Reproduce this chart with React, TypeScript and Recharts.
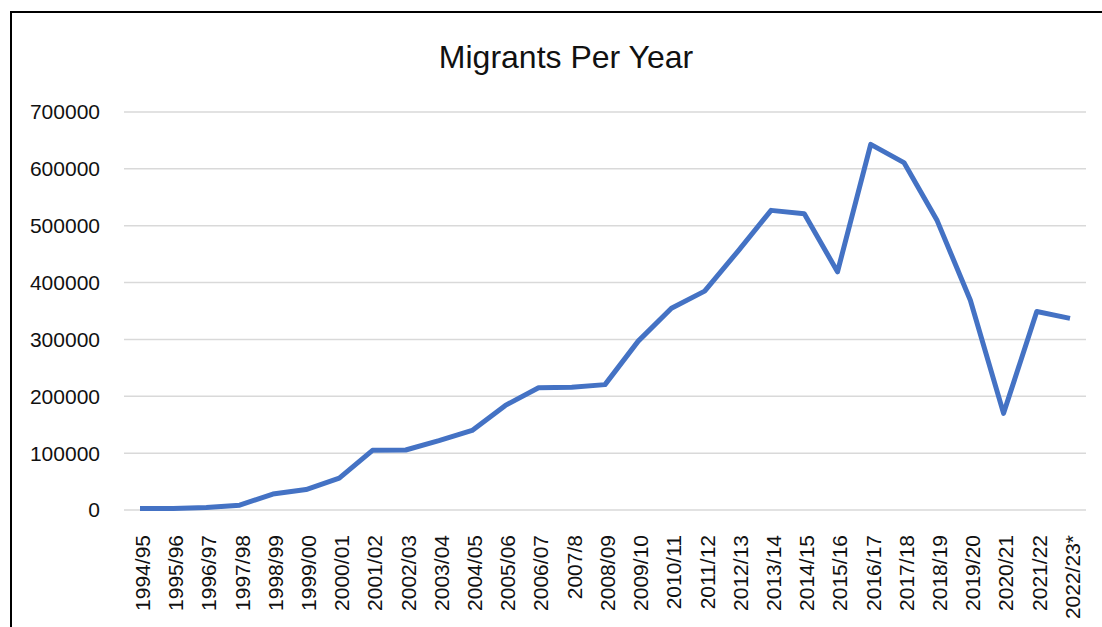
import { LineChart, Line, XAxis, YAxis, CartesianGrid } from "recharts";

const years = [
  "1994/95", "1995/96", "1996/97", "1997/98", "1998/99", "1999/00", "2000/01",
  "2001/02", "2002/03", "2003/04", "2004/05", "2005/06", "2006/07", "2007/8",
  "2008/09", "2009/10", "2010/11", "2011/12", "2012/13", "2013/14", "2014/15",
  "2015/16", "2016/17", "2017/18", "2018/19", "2019/20", "2020/21", "2021/22",
  "2022/23*",
];

const migrants = [
  2500, 2500, 4500, 8500, 28000, 36000, 56000,
  105000, 105500, 122000, 140000, 184000, 215000, 216000,
  220500, 297000, 355000, 385000, 455000, 527000, 521000,
  419000, 643000, 611000, 509000, 369000, 170000, 349000,
  337000,
];

const yTicks = [0, 100000, 200000, 300000, 400000, 500000, 600000, 700000];

const data = years.map((year, i) => ({ year, migrants: migrants[i] }));

const FONT = "'Liberation Sans', Arial, sans-serif";
const TEXT = "#111";

function YearTick(props: any) {
  const { x, y, payload } = props;
  return (
    <text
      transform={`translate(${x},${y + 17}) rotate(-90)`}
      textAnchor="end"
      dy="0.47em"
      fontSize={21}
      fontFamily={FONT}
      fill={TEXT}
    >
      {payload.value}
    </text>
  );
}

export default function App() {
  return (
    <div style={{ position: "relative", width: 1102, height: 627, overflow: "hidden", background: "#fff" }}>
      <style>{"body{margin:0}"}</style>
      <div
        style={{
          position: "absolute",
          left: 10,
          top: 11,
          width: 1200,
          height: 800,
          border: "2px solid #000",
        }}
      />
      <div style={{ position: "absolute", left: 0, top: 0 }}>
        <LineChart
          width={1102}
          height={627}
          data={data}
          margin={{ top: 112, right: 16, left: 0, bottom: 0 }}
        >
          <CartesianGrid vertical={false} stroke="#d9d9d9" strokeWidth={1.5} />
          <XAxis
            dataKey="year"
            interval={0}
            height={117}
            padding={{ left: 16, right: 16 }}
            axisLine={false}
            tickLine={false}
            tick={<YearTick />}
          />
          <YAxis
            domain={[0, 700000]}
            ticks={yTicks}
            width={124}
            axisLine={false}
            tickLine={false}
            tickSize={0}
            tickMargin={24}
            tick={{ fontSize: 21, fontFamily: FONT, fill: TEXT }}
          />
          <Line
            type="linear"
            dataKey="migrants"
            stroke="#4472C4"
            strokeWidth={5}
            strokeLinejoin="round"
            dot={false}
            isAnimationActive={false}
          />
        </LineChart>
      </div>
      <svg
        width={1102}
        height={627}
        style={{ position: "absolute", left: 0, top: 0, pointerEvents: "none" }}
      >
        <text x={566} y={68} textAnchor="middle" fontSize={32} fontFamily={FONT} fill={TEXT}>
          Migrants Per Year
        </text>
      </svg>
    </div>
  );
}
